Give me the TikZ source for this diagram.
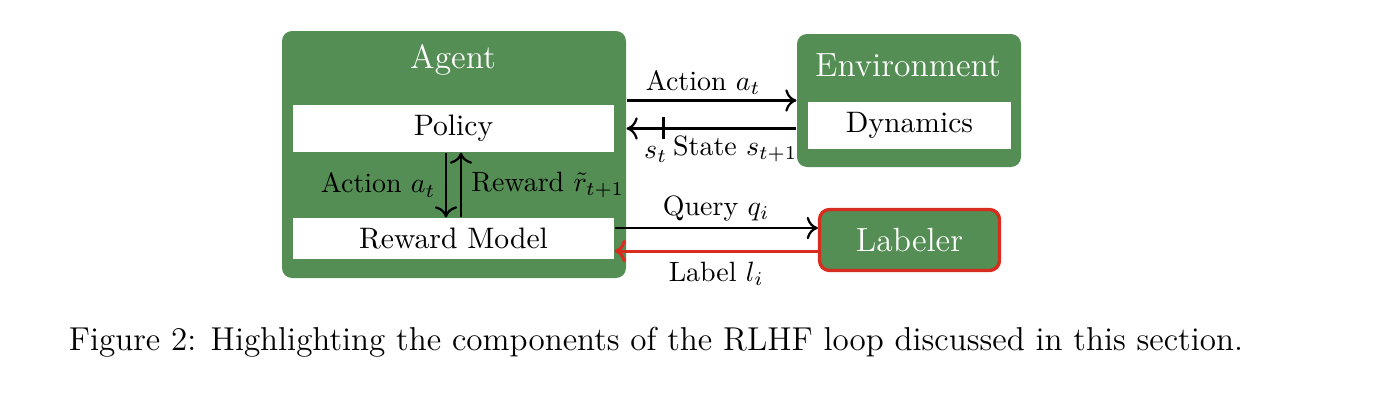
\documentclass[tikz,border=0pt]{standalone}
\usepackage{amsmath,amssymb}
\usepackage{tikz}
\usetikzlibrary{arrows.meta, positioning, calc}
\definecolor{LoopGreen}{HTML}{548E54}
\definecolor{LoopRed}{HTML}{D62D20}
\newcommand{\pxu}{0.358pt}
\tikzset{
  outerbox/.style={rectangle, rounded corners=3.6pt, fill=LoopGreen, draw=none,
                   inner sep=0pt},
  innerbox/.style={rectangle, fill=white, draw=none, inner sep=0pt,
                   font=\fontsize{10.6}{12.7}\selectfont, text=black},
  titletext/.style={text=white, font=\large, inner sep=0pt},
}

\begin{document}
\begin{tikzpicture}[
        x=\pxu, y=-\pxu,
        arr/.style={-{To[length=4pt, width=8pt]}, thick, color=black},
        redarr/.style={-{To[length=4pt, width=8pt]}, line width=1.1pt, color=LoopRed}
      ]
        \useasboundingbox (0,0) rectangle (1400,402);
        \node[outerbox, minimum width=344*\pxu, minimum height=247*\pxu] (agent) at (454,154.5) {};
        \node[titletext] (agenttitle) at (453,60) {Agent};
        \node[innerbox, minimum width=321*\pxu, minimum height=47*\pxu] (policy) at (453.5,128.5) {Policy};
        \node[innerbox, minimum width=321*\pxu, minimum height=41*\pxu] (rm) at (453.5,238.5) {Reward Model};
        \node[outerbox, minimum width=224*\pxu, minimum height=133*\pxu] (env) at (909,100.5) {};
        \node[titletext] (envtitle) at (908,65) {Environment};
        \node[innerbox, minimum width=203*\pxu, minimum height=47*\pxu] (dyn) at (909.5,125.5) {Dynamics};
        \node[outerbox, draw=LoopRed, line width=1.2pt, minimum width=180*\pxu, minimum height=61*\pxu,
              text=white, font=\large] (lab) at (909.5,240) {Labeler};
        \draw[arr] ([xshift=-2.69pt]policy.south) -- ([xshift=-2.69pt]rm.north)
          node[midway, left, text=black] {Action $a_t$};
        \draw[arr] ([xshift=2.69pt]rm.north) -- ([xshift=2.69pt]policy.south)
          node[midway, right, text=black] {Reward $\tilde{r}_{t+1}$};
        \draw[arr] (agent.east |- env.west) -- (env.west)
          node[midway, above, inner sep=1.8pt, xshift=-3pt] {Action $a_t$};
        \draw[arr] (env.west |- policy.east) -- (agent.east |- policy.east);
        \coordinate (tick) at ($(agent.east |- policy.east)+(37,0)$);
        \draw[thick] ([yshift=4.1pt]tick) -- ([yshift=-3.9pt]tick);
        \node[anchor=base, inner sep=0pt] (st) at ([xshift=-2.82pt, yshift=-10.7pt]tick) {$s_t$};
        \node[anchor=base west, inner sep=0pt] (state) at ([xshift=3.24pt, yshift=-9.7pt]tick) {State $s_{t+1}$};
        \draw[arr] ([yshift=3.76pt]rm.east) -- ([yshift=3.76pt]rm.east -| lab.west)
          node[midway, above, inner sep=2pt] {Query $q_i$};
        \draw[redarr] ([yshift=-3.97pt]lab.west) -- ([yshift=-3.97pt]lab.west -| rm.east)
          node[midway, below, text=black] {Label $l_i$};
        \node[anchor=base, inner sep=0pt, font=\fontsize{11.85}{14.2}\selectfont] (caption) at (656,350)
          {Figure 2: Highlighting the components of the RLHF loop discussed in this section.};
      \end{tikzpicture}
\end{document}
